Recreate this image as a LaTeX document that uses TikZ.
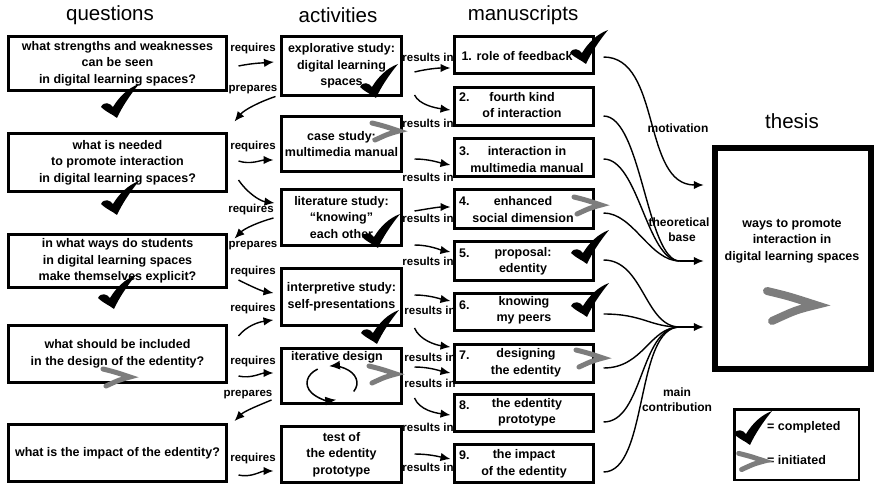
\documentclass[tikz,border=0pt]{standalone}
\usepackage{fontspec}
\setmainfont{Liberation Sans}
\usetikzlibrary{arrows.meta,calc}
\definecolor{initgray}{RGB}{125,125,125}
\newcommand\bxf{\bfseries\fontsize{12.5}{16.5}\selectfont}
\newcommand\lbf{\bfseries\fontsize{11.5}{13}\selectfont}
\newcommand\tlf{\bfseries\fontsize{12}{15}\selectfont}
\newcommand\hdf{\fontsize{20.5}{24}\selectfont}
\tikzset{
 box/.style={draw, line width=3pt, align=center, font=\bxf, inner sep=1pt},
 qbox/.style={box, minimum width=218pt},
 abox/.style={box, minimum width=120pt},
 mbox/.style={box, minimum width=139pt},
 txt/.style={align=center, font=\bxf, inner sep=0pt},
 lbl/.style={font=\lbf, inner sep=0pt},
 tlbl/.style={font=\tlf, inner sep=0pt, align=center},
 hdr/.style={font=\hdf, inner sep=0pt},
 arr/.style={line width=1.4pt, -{Latex[length=10pt,width=8.5pt]}},
 cyc/.style={line width=1.5pt, -{Latex[length=11pt,width=9pt]}},
 crv/.style={line width=1.4pt},
 chk/.pic={\fill (-14,-9) .. controls (-11,-15) and (-5,-13) .. (-2,-9)
    .. controls (4,-19) and (13,-28) .. (24,-32)
    .. controls (15,-21) and (7,-9) .. (2,2)
    .. controls (-3,-2) and (-9,-4) .. (-14,-9) -- cycle;},
 ini/.pic={\draw[initgray, line width=5pt, line cap=round, line join=miter]
    (-14,-8) .. controls (-2,-5) .. (13,0) .. controls (2,3) .. (-11,9);},
 inibig/.pic={\draw[initgray, line width=8pt, line cap=round, line join=miter]
    (-25,-14) .. controls (-4,-9) .. (24,0) .. controls (4,5) .. (-20,16);}
}
\begin{document}
\begin{tikzpicture}[x=1pt,y=-1pt]
\useasboundingbox (0,0) rectangle (874,486);
% headers
\node[hdr] (hq) at (110,15) {questions};
\node[hdr] (ha) at (338,15) {activities};
\node[hdr] (hm) at (523,15) {manuscripts};
\node[hdr] (ht) at (792,121) {thesis};
% questions
\node[qbox, minimum height=54pt] (q1) at (117.5,63.5) {what strengths and weaknesses\\can be seen\\in digital learning spaces?};
\node[qbox, minimum height=58pt] (q2) at (117.5,162.5) {what is needed\\to promote interaction\\in digital learning spaces?};
\node[qbox, minimum height=53pt] (q3) at (117.5,261) {in what ways do students\\in digital learning spaces\\make themselves explicit?};
\node[qbox, minimum height=57pt] (q4) at (117.5,354) {what should be included\\in the design of the edentity?};
\node[qbox, minimum height=57pt] (q5) at (117.5,453) {what is the impact of the edentity?};
% activities
\node[abox, minimum height=59pt] (a1) at (341.5,66) {explorative study:\\digital learning\\spaces};
\node[abox, minimum height=55pt] (a2) at (341.5,144) {case study:\\multimedia manual};
\node[abox, minimum height=56pt] (a3) at (341.5,217.5) {literature study:\\“knowing”\\each other};
\node[abox, minimum height=57pt] (a4) at (341.5,297) {interpretive study:\\self-presentations};
\node[abox, minimum height=55pt] (a5) at (341.5,376) {};
\node[abox, minimum height=56pt] (a6) at (341.5,454.5) {test of\\the edentity\\prototype};
\node[txt] (a5t) at (337,357) {iterative design};
\draw[cyc] ($(a5.center)+(-9.5,7)$) ++(30:25 and 17) arc[start angle=30, end angle=-97, x radius=25, y radius=17];
\draw[cyc] ($(a5.center)+(-9.5,7)$) ++(235:25 and 17) arc[start angle=235, end angle=80, x radius=25, y radius=17];
% manuscripts
\node[mbox, minimum height=37pt] (m1) at (524,55) {};
\node[mbox, minimum height=38pt] (m2) at (524,106.5) {};
\node[mbox, minimum height=38pt] (m3) at (524,157.5) {};
\node[mbox, minimum height=39pt] (m4) at (524,209) {};
\node[mbox, minimum height=39pt] (m5) at (524,261) {};
\node[mbox, minimum height=37pt] (m6) at (524,312) {};
\node[mbox, minimum height=38pt] (m7) at (524,363.5) {};
\node[mbox, minimum height=37pt] (m8) at (524,413) {};
\node[mbox, minimum height=38pt] (m9) at (524,463.5) {};
\node[txt] (mt1) at (517,56) {1. role of feedback};
\node[txt, anchor=west] (mn2) at (459,97) {2.};
\node[txt] (mt2) at (522,105) {fourth kind\\of interaction};
\node[txt, anchor=west] (mn3) at (459,151) {3.};
\node[txt] (mt3) at (527,159.5) {interaction in\\multimedia manual};
\node[txt, anchor=west] (mn4) at (459,201) {4.};
\node[txt] (mt4) at (523,209.5) {enhanced\\social dimension};
\node[txt, anchor=west] (mn5) at (459,253) {5.};
\node[txt] (mt5) at (523,261.5) {proposal:\\edentity};
\node[txt, anchor=west] (mn6) at (459,305) {6.};
\node[txt] (mt6) at (524,310.5) {knowing\\my peers};
\node[txt, anchor=west] (mn7) at (459,355) {7.};
\node[txt] (mt7) at (526,363) {designing\\the edentity};
\node[txt, anchor=west] (mn8) at (459,405) {8.};
\node[txt] (mt8) at (527,412.5) {the edentity\\prototype};
\node[txt, anchor=west] (mn9) at (459,455) {9.};
\node[txt] (mt9) at (524,464) {the impact\\of the edentity};
% thesis and legend
\node[draw, line width=6.5pt, minimum width=156pt, minimum height=220.5pt] (thesis) at (793,258.5) {};
\node[txt] (thesist) at (792,241) {ways to promote\\interaction in\\digital learning spaces};
\node[draw, line width=2.5pt, minimum width=124.5pt, minimum height=70.5pt] (legend) at (796.5,444.5) {};
\node[txt, anchor=west] (lg1) at (767,427) {= completed};
\node[txt, anchor=west] (lg2) at (767,460) {= initiated};
% question -> activity connectors
\draw[arr] ($(q1.east)+(10.5,2.5)$) .. controls +(15,-3) and +(-12,1) .. ($(a1.west)+(-6,-4)$);
\draw[arr] ($(a1.south west)+(-4.5,-0.5)$) .. controls +(-15,5) and +(10,-12) .. ($(q2.north east)+(6.5,-10.5)$);
\draw[arr] ($(q2.east)+(10.5,-1.5)$) .. controls +(12,4) and +(-12,0) .. ($(a2.west)+(-6.5,16)$);
\draw[arr] ($(q2.east)+(10.5,17.5)$) .. controls +(8,12) and +(-15,-2) .. ($(a3.west)+(-5.5,-14.5)$);
\draw[arr] ($(a3.west)+(-6.5,0.5)$) .. controls +(-15,4) and +(10,-10) .. ($(q3.north east)+(6.5,5.5)$);
\draw[arr] ($(q3.east)+(10.5,19)$) .. controls +(12,6) and +(-12,-2) .. ($(a4.west)+(-6.5,-4)$);
\draw[arr] ($(q4.east)+(10.5,-18)$) .. controls +(8,-10) and +(-15,2) .. ($(a4.west)+(-6.5,23)$);
\draw[arr] ($(q4.east)+(10.5,22)$) .. controls +(12,3) and +(-12,0) .. ($(a5.west)+(-6.5,-3)$);
\draw[arr] ($(a5.west)+(-8.5,24)$) .. controls +(-12,5) and +(10,-10) .. ($(q5.north east)+(6.5,-2)$);
\draw[arr] ($(q5.east)+(10.5,22)$) .. controls +(12,3) and +(-12,0) .. ($(a6.west)+(-6.5,16.5)$);
\node[lbl] (l1) at (253,49) {requires};
\node[lbl] (l2) at (253,90) {prepares};
\node[lbl] (l3) at (253,147) {requires};
\node[lbl] (l4) at (251,210) {requires};
\node[lbl] (l5) at (253,246) {prepares};
\node[lbl] (l6) at (253,272) {requires};
\node[lbl] (l7) at (253,309) {requires};
\node[lbl] (l8) at (253,362) {requires};
\node[lbl] (l9) at (248,395) {prepares};
\node[lbl] (l10) at (253,459) {requires};
% activity -> manuscript connectors
\draw[arr] ($(a1.east)+(11.5,6)$) .. controls +(12,-3) and +(-12,0) .. ($(m1.west)+(-2.5,13)$);
\draw[arr] ($(a1.east)+(11.5,29)$) .. controls +(5,10) and +(-15,-2) .. ($(m2.west)+(-2.5,3.5)$);
\draw[arr] ($(a2.east)+(11.5,15)$) .. controls +(15,0) and +(-10,-2) .. ($(m3.west)+(-2.5,7.5)$);
\draw[arr] ($(a3.east)+(11.5,-6.5)$) .. controls +(12,-2) and +(-12,0) .. ($(m4.west)+(-2.5,-2)$);
\draw[arr] ($(a3.east)+(11.5,27.5)$) .. controls +(15,0) and +(-10,-2) .. ($(m5.west)+(-2.5,-9)$);
\draw[arr] ($(a4.east)+(11.5,-2)$) .. controls +(15,0) and +(-10,-2) .. ($(m6.west)+(-2.5,-11)$);
\draw[arr] ($(a4.east)+(11.5,31)$) .. controls +(5,12) and +(-15,-2) .. ($(m7.west)+(-2.5,-16.5)$);
\draw[arr] ($(a5.east)+(11.5,-9)$) .. controls +(15,0) and +(-10,-2) .. ($(m7.west)+(-2.5,9.5)$);
\draw[arr] ($(a5.east)+(11.5,22)$) .. controls +(5,12) and +(-15,-2) .. ($(m8.west)+(-2.5,2)$);
\draw[arr] ($(a6.east)+(11.5,-0.5)$) .. controls +(15,0) and +(-10,-2) .. ($(m9.west)+(-2.5,-4.5)$);
\node[lbl] (r1) at (428,57) {results in};
\node[lbl] (r2) at (428,123) {results in};
\node[lbl] (r3) at (428,177) {results in};
\node[lbl] (r4) at (428,218) {results in};
\node[lbl] (r5) at (428,261) {results in};
\node[lbl] (r6) at (430,310) {results in};
\node[lbl] (r7) at (430,357) {results in};
\node[lbl] (r8) at (430,383) {results in};
\node[lbl] (r9) at (428,427) {results in};
\node[lbl] (r10) at (428,467) {results in};
% manuscripts -> thesis
\coordinate (tbc) at ($(thesis.west)+(-32,2.5)$);
\coordinate (mcc) at ($(thesis.west)+(-32,68.5)$);
\draw[arr] ($(m1.east)+(8.5,2)$) .. controls +(58,0) and +(-62,0) .. ($(thesis.west)+(-8,-73.5)$);
\draw[crv] ($(m2.east)+(8.5,9.5)$) .. controls +(38,0) and +(-33,0) .. (tbc);
\draw[crv] ($(m3.east)+(8.5,1.5)$) .. controls +(35,0) and +(-33,0) .. (tbc);
\draw[crv] ($(m4.east)+(8.5,4)$) .. controls +(30,0) and +(-30,0) .. (tbc);
\draw[arr] (tbc) -- ($(thesis.west)+(-8,2.5)$);
\draw[crv] ($(m5.east)+(8.5,-1)$) .. controls +(40,0) and +(-35,0) .. (mcc);
\draw[crv] ($(m6.east)+(8.5,2)$) .. controls +(40,0) and +(-30,0) .. (mcc);
\draw[crv] ($(m7.east)+(8.5,4.5)$) .. controls +(40,0) and +(-30,0) .. (mcc);
\draw[crv] ($(m8.east)+(8.5,9)$) .. controls +(40,0) and +(-40,0) .. (mcc);
\draw[crv] ($(m9.east)+(8.5,8.5)$) .. controls +(45,0) and +(-45,0) .. (mcc);
\draw[arr] (mcc) -- ($(thesis.west)+(-8,68.5)$);
\node[tlbl] (tl1) at (678,128) {motivation};
\node[tlbl] (tl2) at (679,229.5) {theoretical\\\hspace*{6pt}base};
\node[tlbl] (tl3) at (677,399.5) {main\\contribution};
% marks
\pic at (115,116) {chk};
\pic at (115,213) {chk};
\pic at (112,307) {chk};
\pic at (117,377) {ini};
\pic at (374,96) {chk};
\pic at (386,131) {ini};
\pic at (376,246) {chk};
\pic at (375,342) {chk};
\pic at (383,374) {ini};
\pic at (584,62) {chk};
\pic at (588,205) {ini};
\pic at (585,262) {chk};
\pic at (585,315) {chk};
\pic at (590,358) {ini};
\pic at (792,305) {inibig};
\pic at (748,443) {chk};
\pic[scale=0.95] at (752,461) {ini};
\end{tikzpicture}
\end{document}
